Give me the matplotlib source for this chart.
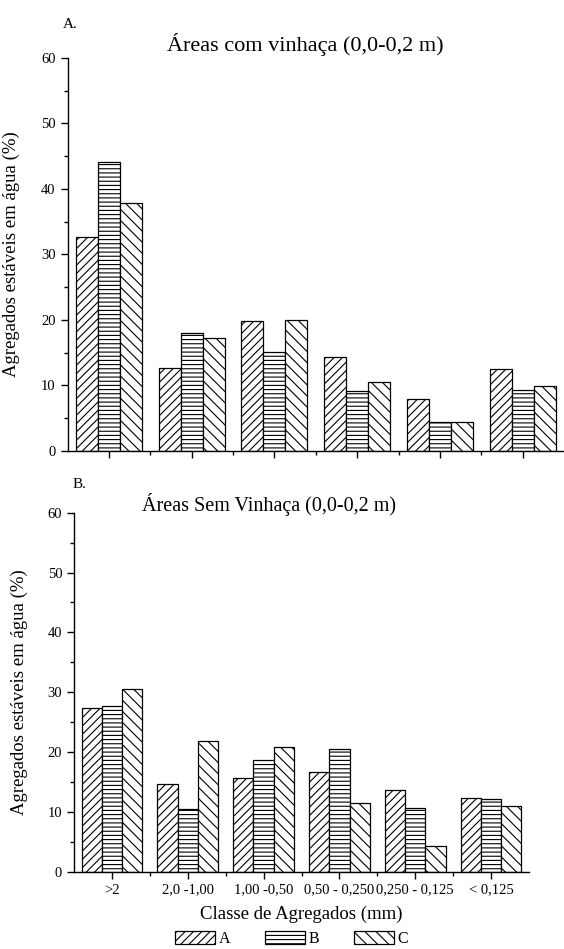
import numpy as np
import matplotlib
matplotlib.use("Agg")
import matplotlib.pyplot as plt
from matplotlib.patches import Patch
from matplotlib.ticker import MultipleLocator, FixedLocator

plt.rcParams['font.family'] = ['Liberation Serif', 'DejaVu Serif']
plt.rcParams['hatch.linewidth'] = 0.8

# Data
classes = [">2", "2,0 -1,00", "1,00 -0,50", "0,50 - 0,250", "0,250 - 0,125", "< 0,125"]
series = ["A", "B", "C"]
hatches = ["////", "----", "\\\\\\"]

com_vinhaca_A = [32.6, 12.6, 19.8, 14.4, 8.0, 12.5]
com_vinhaca_B = [44.1, 18.0, 15.1, 9.1, 4.5, 9.3]
com_vinhaca_C = [37.8, 17.3, 20.0, 10.6, 4.4, 9.9]

sem_vinhaca_A = [27.4, 14.6, 15.6, 16.7, 13.6, 12.3]
sem_vinhaca_B = [27.7, 10.5, 18.7, 20.5, 10.6, 12.2]
sem_vinhaca_C = [30.6, 21.8, 20.9, 11.4, 4.3, 11.0]

fig = plt.figure(figsize=(5.64, 9.49), dpi=100)
ax_top = fig.add_axes([67.5 / 564, 498 / 949, 496.5 / 564, 393 / 949])
ax_bot = fig.add_axes([74 / 564, 77.3 / 949, 455 / 564, 359 / 949])

x = np.arange(len(classes))
w = 0.8 / 3


def draw_panel(ax, values, ylabel_x):
    for i, (vals, h) in enumerate(zip(values, hatches)):
        ax.bar(x + (i - 1) * w, vals, width=w, facecolor="white",
               edgecolor="black", linewidth=0.9, hatch=h)
    ax.set_xlim(-0.5, len(classes) - 0.5)
    ax.set_ylim(0, 60)
    ax.spines['top'].set_visible(False)
    ax.spines['right'].set_visible(False)
    ax.spines['left'].set_linewidth(1.0)
    ax.spines['bottom'].set_linewidth(1.0)
    ax.yaxis.set_major_locator(MultipleLocator(10))
    ax.yaxis.set_minor_locator(MultipleLocator(5))
    ax.xaxis.set_major_locator(FixedLocator(x))
    ax.xaxis.set_minor_locator(FixedLocator(x[:-1] + 0.5))
    ax.tick_params(axis='both', which='major', direction='out', length=5,
                   width=1.0, labelsize=10.5)
    ax.tick_params(axis='both', which='minor', direction='out', length=3, width=1.0)
    ax.set_ylabel("Agregados estáveis em água (%)", fontsize=13.5)
    ax.yaxis.set_label_coords(ylabel_x, 0.5)


draw_panel(ax_top, [com_vinhaca_A, com_vinhaca_B, com_vinhaca_C], -0.096)
ax_top.set_xticklabels([])

draw_panel(ax_bot, [sem_vinhaca_A, sem_vinhaca_B, sem_vinhaca_C], -0.101)
ax_bot.set_xticklabels(classes, fontsize=10.5)
ax_bot.set_xlabel("Classe de Agregados (mm)", fontsize=13.5)
ax_bot.xaxis.set_label_coords(0.5, -0.095)

fig.text(63 / 564, 1 - 24 / 949, "A.", fontsize=11, ha="left", va="center")
fig.text(305 / 564, 1 - 44 / 949, "Áreas com vinhaça (0,0-0,2 m)", fontsize=16,
         ha="center", va="center")
fig.text(73 / 564, 1 - 484 / 949, "B.", fontsize=11, ha="left", va="center")
fig.text(268.7 / 564, 1 - 504 / 949, "Áreas Sem Vinhaça (0,0-0,2 m)", fontsize=14.5,
         ha="center", va="center")

handles = [Patch(facecolor="white", edgecolor="black", linewidth=0.9, hatch=h, label=s)
           for s, h in zip(series, hatches)]
fig.legend(handles=handles, loc="center", bbox_to_anchor=(0.517, 0.0105), ncol=3,
           frameon=False, fontsize=11.5, handlelength=2.5, handleheight=0.8,
           handletextpad=0.2, columnspacing=2.2, borderpad=0, borderaxespad=0)

fig.savefig("out.png", dpi=100)
